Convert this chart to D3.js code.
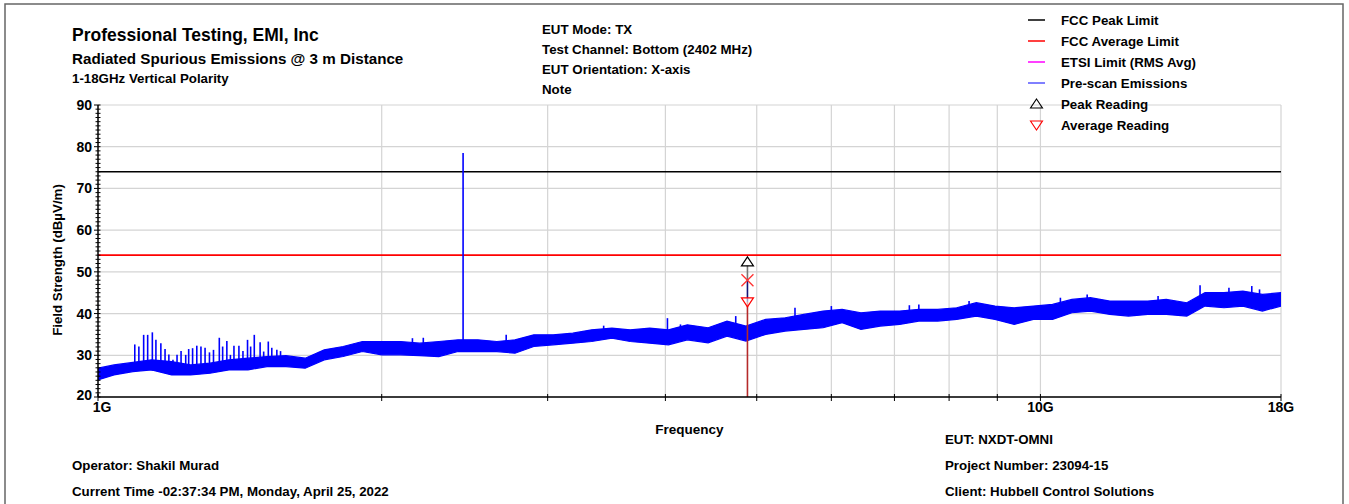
<!DOCTYPE html>
<html><head><meta charset="utf-8">
<script src="https://cdn.jsdelivr.net/npm/d3@7"></script>
<style>
body{margin:0;background:#fff;}
text{font-family:"Liberation Sans",Arial,sans-serif;font-weight:bold;fill:#000;}
</style></head>
<body><svg id="c" width="1349" height="504"></svg>
<script>
// ---- data (frequency in GHz, level in dBµV/m) ----
const bandFreq   = [1.0,1.04,1.089,1.14,1.197,1.254,1.315,1.377,1.443,1.511,1.583,1.659,1.738,1.82,1.908,2.0,2.095,2.195,2.3,2.41,2.53,2.65,2.77,2.9,3.04,3.19,3.34,3.51,3.67,3.85,4.03,4.22,4.44,4.65,4.87,5.11,5.36,5.61,5.88,6.16,6.45,6.76,7.09,7.43,7.78,8.15,8.55,8.95,9.38,9.83,10.3,10.8,11.3,11.85,12.4,13.0,13.6,14.3,14.95,15.66,16.4,17.2,18.0];
const bandTop    = [26.9,27.7,28.3,28.9,28.5,27.7,28.1,28.9,29.3,29.7,29.9,29.3,31.3,32.1,33.3,33.3,33.3,32.9,33.3,33.7,33.7,33.3,33.7,34.9,34.9,35.3,36.1,36.5,36.1,36.5,36.1,37.3,36.6,38.2,37.0,38.6,39.0,39.8,40.6,41.0,40.2,40.6,40.6,41.0,41.0,41.4,42.6,41.8,41.4,41.8,42.2,43.4,43.8,43.0,43.0,43.0,43.4,42.6,45.0,45.0,45.4,44.6,45.0];
const bandBottom = [24.1,25.3,26.1,26.5,25.3,25.3,25.7,26.5,26.5,27.3,27.3,26.9,28.9,29.7,30.9,30.1,30.1,29.9,29.7,30.9,30.9,30.9,30.5,32.1,32.5,32.9,33.3,34.1,33.3,32.9,32.5,33.7,33.0,34.6,33.4,35.0,35.8,36.2,36.6,37.8,36.2,37.0,37.4,38.2,38.2,38.6,39.4,38.6,37.4,38.6,38.6,40.2,40.6,39.8,39.4,39.8,39.8,39.4,41.8,41.4,41.8,40.6,41.8];
const spikeFreq  = [1.094,1.105,1.118,1.129,1.142,1.152,1.166,1.178,1.189,1.201,1.213,1.225,1.239,1.248,1.260,1.273,1.286,1.299,1.313,1.326,1.345,1.356,1.370,1.382,1.394,1.411,1.425,1.441,1.452,1.465,1.486,1.499,1.516,1.529,1.548,1.562,
                    2.156,2.214,2.711,3.44,4.02,4.15,4.75,5.49,6.00,7.26,7.43,8.40,10.50,11.21,13.33,14.77,15.85,16.76,17.08];
const spikeLevel = [32.6,32.1,34.9,34.9,35.5,33.7,32.9,31.5,30.2,28.9,30.1,31.0,30.1,31.5,31.7,32.3,32.1,31.8,30.7,31.3,34.2,32.1,33.4,30.1,32.3,32.3,31.0,33.7,32.1,34.9,33.1,30.9,33.3,31.8,31.3,31.0,
                    34.1,34.2,34.9,37.1,38.9,37.4,39.4,41.4,41.8,42.0,42.2,43.0,43.8,44.6,44.2,46.8,46.2,46.6,45.8];
const carrierFreq = 2.44, carrierLevel = 78.5;
const fccPeakLimit = 74, fccAvgLimit = 54;
const readingFreq = 4.888, peakReading = 52.4, quasiReading = 48.0, avgReading = 42.8;
const yTicks = [20,30,40,50,60,70,80,90];
const xGridGHz = [1,2,3,4,5,6,7,8,9,10,18];
const xLabelGHz = [1,10,18];
const legendItems = ["FCC Peak Limit","FCC Average Limit","ETSI Limit (RMS Avg)","Pre-scan Emissions","Peak Reading","Average Reading"];
const headerLeft = ["Professional Testing, EMI, Inc","Radiated Spurious Emissions @ 3 m Distance","1-18GHz Vertical Polarity"];
const headerCenter = ["EUT Mode: TX","Test Channel: Bottom (2402 MHz)","EUT Orientation: X-axis","Note"];
const footerLeft = ["Operator: Shakil Murad","Current Time -02:37:34 PM, Monday, April 25, 2022"];
const footerRight = ["EUT: NXDT-OMNI","Project Number: 23094-15","Client: Hubbell Control Solutions"];

const svg = d3.select("#c");
const L=98,R=1281,T=105,B=397;
const x = d3.scaleLog().domain([1,18]).range([L,R]);
const y = d3.scaleLinear().domain([20,90]).range([B,T]);
const FS = 13.3;

// frame
svg.append("path").attr("d","M5,506 V4 H1343 V506").attr("fill","none").attr("stroke","#666").attr("stroke-width",1.5);

// grid
svg.append("g").selectAll("line").data(yTicks).join("line")
  .attr("x1",L).attr("x2",R).attr("y1",d=>y(d)).attr("y2",d=>y(d))
  .attr("stroke","#d4d4d4").attr("stroke-width",1.2);
svg.append("g").selectAll("line").data(xGridGHz.filter(d=>d>1)).join("line")
  .attr("x1",d=>x(d)).attr("x2",d=>x(d)).attr("y1",T).attr("y2",B)
  .attr("stroke","#d4d4d4").attr("stroke-width",1.2);

svg.append("clipPath").attr("id","clip").append("rect").attr("x",L).attr("y",T).attr("width",R-L).attr("height",B-T);
const plot = svg.append("g").attr("clip-path","url(#clip)");

// limits
plot.append("line").attr("x1",L).attr("x2",R).attr("y1",y(fccPeakLimit)).attr("y2",y(fccPeakLimit)).attr("stroke","#000").attr("stroke-width",1.6);
plot.append("line").attr("x1",L).attr("x2",R).attr("y1",y(fccAvgLimit)).attr("y2",y(fccAvgLimit)).attr("stroke","#ff0000").attr("stroke-width",1.6);

// emissions band
const bandData = bandFreq.map((f,i)=>({f,t:bandTop[i],b:bandBottom[i]}));
plot.append("path").datum(bandData)
  .attr("d",d3.area().x(d=>x(d.f)).y0(d=>y(d.b)).y1(d=>y(d.t)))
  .attr("fill","#0000ff").attr("stroke","#0000ff").attr("stroke-width",1.2);
const bis = d3.bisector(d=>d.f).left;
function baseAt(f){const i=Math.min(bis(bandData,f),bandData.length-1);return bandData[i].b+1;}
plot.append("g").selectAll("line").data(spikeFreq.map((f,i)=>({f,v:spikeLevel[i]}))).join("line")
  .attr("x1",d=>x(d.f)).attr("x2",d=>x(d.f)).attr("y1",d=>y(d.v)).attr("y2",d=>y(baseAt(d.f)))
  .attr("stroke","#0000ff").attr("stroke-width",1.6);
plot.append("line").attr("x1",x(carrierFreq)).attr("x2",x(carrierFreq)).attr("y1",y(carrierLevel)).attr("y2",y(baseAt(carrierFreq)))
  .attr("stroke","#0000ff").attr("stroke-width",1.6);

// readings
const rx = x(readingFreq);
plot.append("line").attr("x1",rx).attr("x2",rx).attr("y1",y(avgReading)).attr("y2",B).attr("stroke","#b52a2a").attr("stroke-width",1.6);
plot.append("line").attr("x1",rx).attr("x2",rx).attr("y1",y(quasiReading)).attr("y2",y(avgReading)).attr("stroke","#15157a").attr("stroke-width",1.6);
plot.append("line").attr("x1",rx).attr("x2",rx).attr("y1",y(peakReading)).attr("y2",y(quasiReading)).attr("stroke","#777").attr("stroke-width",1.6);
const triUp = (cx,cy)=>`M${cx},${cy-5} L${cx+6},${cy+4} L${cx-6},${cy+4} Z`;
const triDn = (cx,cy)=>`M${cx-6},${cy-4} L${cx+6},${cy-4} L${cx},${cy+5} Z`;
svg.append("path").attr("d",triUp(rx,y(peakReading))).attr("fill","#fff").attr("stroke","#000").attr("stroke-width",1.2);
svg.append("path").attr("d",triDn(rx,y(avgReading))).attr("fill","#fff").attr("fill-opacity",0.6).attr("stroke","#ff0000").attr("stroke-width",1.2);
const qy=y(quasiReading);
svg.append("path").attr("d",`M${rx-6},${qy-6} L${rx+6},${qy+6} M${rx+6},${qy-6} L${rx-6},${qy+6}`).attr("stroke","#ff3333").attr("stroke-width",1.3);

// axes
const ga = svg.append("g");
ga.append("line").attr("x1",L).attr("x2",L).attr("y1",T).attr("y2",B).attr("stroke","#000").attr("stroke-width",1.5);
ga.append("line").attr("x1",L).attr("x2",R).attr("y1",B).attr("y2",B).attr("stroke","#000").attr("stroke-width",1.5);
ga.append("g").selectAll("line").data(d3.range(20,91,1)).join("line")
  .attr("x1",d=>d%10===0?L-4:L-2.5).attr("x2",L+2.5).attr("y1",d=>y(d)).attr("y2",d=>y(d))
  .attr("stroke","#000").attr("stroke-width",1);
ga.append("g").selectAll("text").data(yTicks).join("text")
  .attr("x",L-6).attr("y",d=>y(d)+(d===20?3:5)).attr("text-anchor","end").attr("font-size",14).text(d=>d);
ga.append("g").selectAll("line").data(xGridGHz).join("line")
  .attr("x1",d=>x(d)).attr("x2",d=>x(d)).attr("y1",B-3).attr("y2",B+4).attr("stroke","#000").attr("stroke-width",1);
ga.append("g").selectAll("text").data(xLabelGHz).join("text")
  .attr("x",d=>d===1?x(d)+4:x(d)).attr("y",B+15).attr("text-anchor","middle").attr("font-size",14).text(d=>d+"G");
svg.append("text").attr("x",(L+R)/2).attr("y",434).attr("text-anchor","middle").attr("font-size",13.5).text("Frequency");
svg.append("text").attr("transform",`translate(62,${(T+B)/2+9}) rotate(-90)`).attr("text-anchor","middle").attr("font-size",FS).text("Field Strength (dBµV/m)");

// header
const hl = svg.append("g");
hl.append("text").attr("x",72).attr("y",40.5).attr("font-size",17.5).text(headerLeft[0]);
hl.append("text").attr("x",72).attr("y",64).attr("font-size",15.2).text(headerLeft[1]);
hl.append("text").attr("x",72).attr("y",82.5).attr("font-size",FS).text(headerLeft[2]);
svg.append("g").selectAll("text").data(headerCenter).join("text")
  .attr("x",542).attr("y",(d,i)=>34+i*20).attr("font-size",FS).text(d=>d);

// legend
const lg = svg.append("g");
const lcol = ["#000","#ff0000","#ff00ff","#0000ff"];
legendItems.forEach((t,i)=>{
  const cy = 20+i*21;
  if(i<4) lg.append("line").attr("x1",1028).attr("x2",1045).attr("y1",cy).attr("y2",cy).attr("stroke",lcol[i]).attr("stroke-width",i===3?1:1.5);
  else if(i===4) lg.append("path").attr("d",triUp(1036.5,cy)).attr("fill","none").attr("stroke","#000").attr("stroke-width",1.1);
  else lg.append("path").attr("d",triDn(1036.5,cy)).attr("fill","none").attr("stroke","#ff0000").attr("stroke-width",1.1);
  lg.append("text").attr("x",1061).attr("y",cy+5).attr("font-size",FS).text(t);
});

// footer
svg.append("g").selectAll("text").data(footerLeft).join("text")
  .attr("x",72).attr("y",(d,i)=>470+i*26).attr("font-size",FS).text(d=>d);
svg.append("g").selectAll("text").data(footerRight).join("text")
  .attr("x",945).attr("y",(d,i)=>444+i*26).attr("font-size",FS).text(d=>d);
</script></body></html>
